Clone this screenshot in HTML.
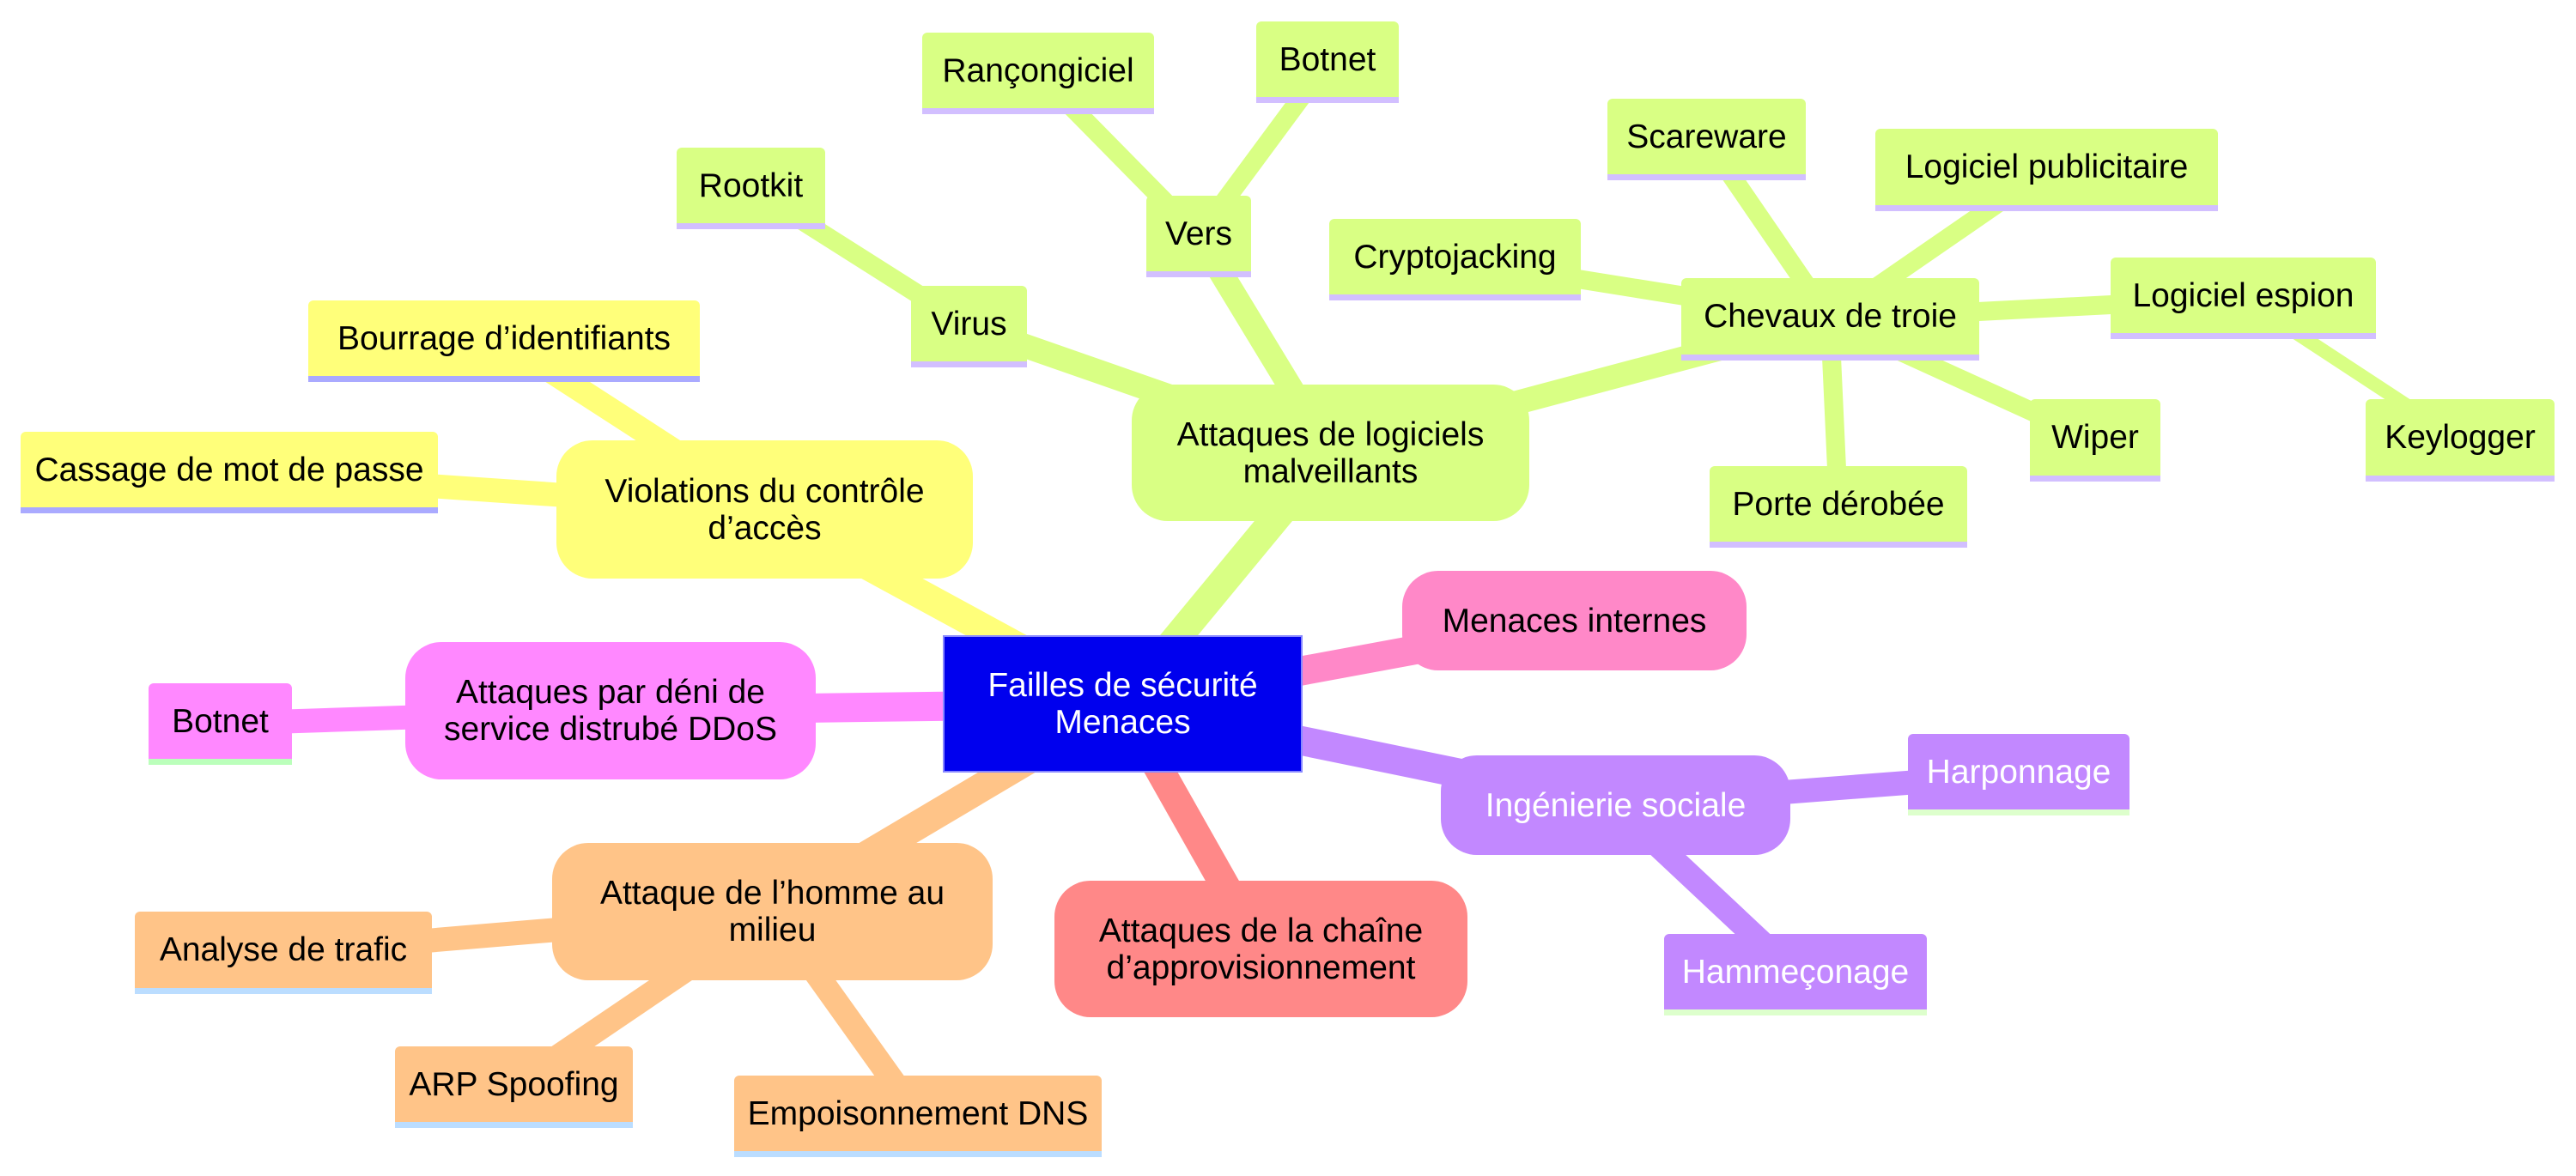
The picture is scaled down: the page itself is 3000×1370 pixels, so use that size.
<!DOCTYPE html>
<html><head><meta charset="utf-8"><style>
html,body{margin:0;padding:0;background:#fff;}
#c{position:relative;width:3000px;height:1370px;overflow:hidden;background:#fff;font-family:"Trebuchet MS","Liberation Sans","DejaVu Sans",sans-serif;}
svg{position:absolute;left:0;top:0;}
.n{position:absolute;box-sizing:border-box;display:flex;align-items:center;justify-content:center;text-align:center;font-size:39px;line-height:43px;color:#000;white-space:nowrap;}
.l{border-radius:6px 6px 0 0;border-bottom:7px solid;}
.b{border-radius:42px;}
.g{background:#d9ff84;border-color:#d2bfff;}
.y{background:#ffff7a;border-color:#aaaaff;}
.p{background:#ff88ff;border-color:#bbffbb;}
.o{background:#ffc488;border-color:#bbddff;}
.v{background:#c288ff;border-color:#ddffcc;color:#fff;}
</style></head><body><div id="c">
<svg width="3000" height="1370">
<g stroke-linecap="butt">
<g stroke="#d9ff84">
<line x1="1307" y1="820" x2="1549" y2="527" stroke-width="34"/>
<line x1="1549" y1="527" x2="1128" y2="380" stroke-width="28"/>
<line x1="1549" y1="527" x2="1396" y2="275" stroke-width="28"/>
<line x1="1549" y1="527" x2="2131" y2="372" stroke-width="28"/>
<line x1="1128" y1="380" x2="874" y2="219" stroke-width="22"/>
<line x1="1396" y1="275" x2="1209" y2="85" stroke-width="22"/>
<line x1="1396" y1="275" x2="1546" y2="72" stroke-width="22"/>
<line x1="2131" y1="372" x2="1694" y2="302" stroke-width="22"/>
<line x1="2131" y1="372" x2="1987" y2="162" stroke-width="22"/>
<line x1="2131" y1="372" x2="2383" y2="198" stroke-width="22"/>
<line x1="2131" y1="372" x2="2612" y2="347" stroke-width="22"/>
<line x1="2131" y1="372" x2="2440" y2="513" stroke-width="22"/>
<line x1="2131" y1="372" x2="2141" y2="590" stroke-width="22"/>
<line x1="2612" y1="347" x2="2865" y2="513" stroke-width="16"/>
</g>
<g stroke="#ffff7a">
<line x1="1307" y1="820" x2="890" y2="593" stroke-width="34"/>
<line x1="890" y1="593" x2="587" y2="397" stroke-width="28"/>
<line x1="890" y1="593" x2="267" y2="550" stroke-width="28"/>
</g>
<g stroke="#ff88ff">
<line x1="1307" y1="820" x2="711" y2="828" stroke-width="34"/>
<line x1="711" y1="828" x2="256" y2="843" stroke-width="28"/>
</g>
<g stroke="#ffc488">
<line x1="1307" y1="820" x2="899" y2="1062" stroke-width="34"/>
<line x1="899" y1="1062" x2="330" y2="1110" stroke-width="28"/>
<line x1="899" y1="1062" x2="598" y2="1266" stroke-width="28"/>
<line x1="899" y1="1062" x2="1069" y2="1300" stroke-width="28"/>
</g>
<line x1="1307" y1="820" x2="1468" y2="1105" stroke="#ff8888" stroke-width="34"/>
<line x1="1307" y1="820" x2="1833" y2="723" stroke="#ff88c8" stroke-width="34"/>
<g stroke="#c288ff">
<line x1="1307" y1="820" x2="1881" y2="938" stroke-width="34"/>
<line x1="1881" y1="938" x2="2351" y2="902" stroke-width="28"/>
<line x1="1881" y1="938" x2="2091" y2="1135" stroke-width="28"/>
</g>
</g>
</svg>

<div class="n" style="left:1098px;top:740px;width:419px;height:160px;background:#0000ee;border:2px solid #8888ff;color:#fff;">Failles de sécurité<br>Menaces</div>

<div class="n b g" style="left:1318px;top:448px;width:463px;height:159px;">Attaques de logiciels<br>malveillants</div>
<div class="n b y" style="left:648px;top:513px;width:485px;height:161px;">Violations du contrôle<br>d’accès</div>
<div class="n b p" style="left:472px;top:748px;width:478px;height:160px;">Attaques par déni de<br>service distrubé DDoS</div>
<div class="n b o" style="left:643px;top:982px;width:513px;height:160px;">Attaque de l’homme au<br>milieu</div>
<div class="n b" style="left:1228px;top:1026px;width:481px;height:159px;background:#ff8888;">Attaques de la chaîne<br>d’approvisionnement</div>
<div class="n b" style="left:1633px;top:665px;width:401px;height:116px;background:#ff88c8;">Menaces internes</div>
<div class="n b v" style="left:1678px;top:880px;width:407px;height:116px;">Ingénierie sociale</div>

<div class="n l g" style="left:1074px;top:38px;width:270px;height:95px;">Rançongiciel</div>
<div class="n l g" style="left:1463px;top:25px;width:166px;height:95px;">Botnet</div>
<div class="n l g" style="left:1872px;top:115px;width:231px;height:95px;">Scareware</div>
<div class="n l g" style="left:1335px;top:228px;width:122px;height:95px;">Vers</div>
<div class="n l g" style="left:1548px;top:255px;width:293px;height:95px;">Cryptojacking</div>
<div class="n l g" style="left:1061px;top:333px;width:135px;height:95px;">Virus</div>
<div class="n l g" style="left:788px;top:172px;width:173px;height:95px;">Rootkit</div>
<div class="n l g" style="left:1958px;top:324px;width:347px;height:96px;">Chevaux de troie</div>
<div class="n l g" style="left:2184px;top:150px;width:399px;height:96px;">Logiciel publicitaire</div>
<div class="n l g" style="left:2458px;top:300px;width:309px;height:95px;">Logiciel espion</div>
<div class="n l g" style="left:2364px;top:465px;width:152px;height:96px;">Wiper</div>
<div class="n l g" style="left:2755px;top:465px;width:220px;height:96px;">Keylogger</div>
<div class="n l g" style="left:1991px;top:543px;width:300px;height:95px;">Porte dérobée</div>

<div class="n l y" style="left:359px;top:350px;width:456px;height:95px;">Bourrage d’identifiants</div>
<div class="n l y" style="left:24px;top:503px;width:486px;height:95px;">Cassage de mot de passe</div>

<div class="n l p" style="left:173px;top:796px;width:167px;height:95px;">Botnet</div>

<div class="n l o" style="left:157px;top:1062px;width:346px;height:96px;">Analyse de trafic</div>
<div class="n l o" style="left:460px;top:1219px;width:277px;height:95px;">ARP Spoofing</div>
<div class="n l o" style="left:855px;top:1253px;width:428px;height:95px;">Empoisonnement DNS</div>

<div class="n l v" style="left:2222px;top:855px;width:258px;height:95px;">Harponnage</div>
<div class="n l v" style="left:1938px;top:1088px;width:306px;height:95px;">Hammeçonage</div>
</div></body></html>
